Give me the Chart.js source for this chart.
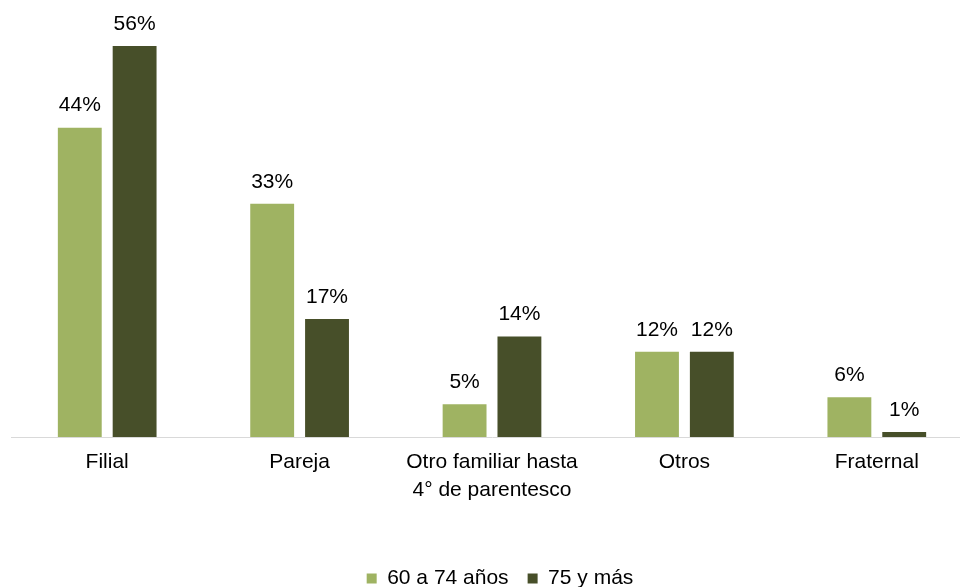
<!DOCTYPE html>
<html>
<head>
<meta charset="utf-8">
<script src="https://cdn.jsdelivr.net/npm/chart.js@4/dist/chart.umd.min.js"></script>
<style>
  html, body { margin: 0; padding: 0; background: #fff; overflow: hidden; width: 960px; height: 587px; }
  #wrap { width: 975px; height: 587px; position: relative; }
</style>
</head>
<body>
<div id="wrap"><canvas id="g1"></canvas></div>
<script>
// Datos del gráfico (valores estimados de la imagen, etiquetas redondeadas)
const categorias = ['Filial', 'Pareja', ['Otro familiar hasta', '4° de parentesco'], 'Otros', 'Fraternal'];
const serie1Nombre = '60 a 74 años';
const serie2Nombre = '75 y más';
const serie1 = [44.3, 33.4, 4.7, 12.2, 5.7];
const serie2 = [56, 16.9, 14.4, 12.2, 0.7];

const verdeClaro = '#9fb362';
const verdeOscuro = '#474f29';
const fuente = "Arial, 'Liberation Sans', sans-serif";

// Etiquetas de valor encima de cada barra
const etiquetasPlugin = {
    id: 'etiquetas',
    afterDatasetsDraw(chart) {
        const ctx = chart.ctx;
        ctx.save();
        ctx.font = '21px ' + fuente;
        ctx.fillStyle = '#000';
        ctx.textAlign = 'center';
        ctx.textBaseline = 'middle';
        chart.data.datasets.forEach((ds, i) => {
            chart.getDatasetMeta(i).data.forEach((bar, j) => {
                ctx.fillText(Math.round(ds.data[j]) + '%', bar.x, bar.y - 22);
            });
        });
        ctx.restore();
    }
};

// Mueve la leyenda un poco (abajo y a la derecha)
const leyendaPlugin = {
    id: 'moverLeyenda',
    afterLayout(chart) {
        const lg = chart.legend;
        lg.top += 12; lg.bottom += 12;
        lg.left += 8; lg.right += 8;
    }
};

const ctx = document.getElementById('g1').getContext('2d');
new Chart(ctx, {
    type: 'bar',
    data: {
        labels: categorias,
        datasets: [{
            label: serie1Nombre,
            data: serie1,
            backgroundColor: verdeClaro,
            borderWidth: 0,
            categoryPercentage: 0.57,
            barPercentage: 0.8
        }, {
            label: serie2Nombre,
            data: serie2,
            backgroundColor: verdeOscuro,
            borderWidth: 0,
            categoryPercentage: 0.57,
            barPercentage: 0.8
        }]
    },
    options: {
        responsive: true,
        maintainAspectRatio: false,
        animation: false,
        layout: { padding: { left: 11, right: 2, top: 18, bottom: 0 } },
        scales: {
            x: {
                grid: { display: false },
                border: { display: true, color: '#d9d9d9', width: 1 },
                ticks: {
                    color: '#000',
                    padding: 4,
                    maxRotation: 0,
                    font: { family: fuente, size: 21, lineHeight: 1.3 }
                },
                afterFit: (s) => { s.height = 100; }
            },
            y: {
                display: false,
                min: 0,
                max: 60
            }
        },
        plugins: {
            legend: {
                position: 'bottom',
                labels: {
                    color: '#000',
                    boxWidth: 10,
                    boxHeight: 10,
                    padding: 19,
                    font: { family: fuente, size: 21 }
                }
            },
            tooltip: { enabled: false }
        }
    },
    plugins: [etiquetasPlugin, leyendaPlugin]
});
</script>
</body>
</html>
